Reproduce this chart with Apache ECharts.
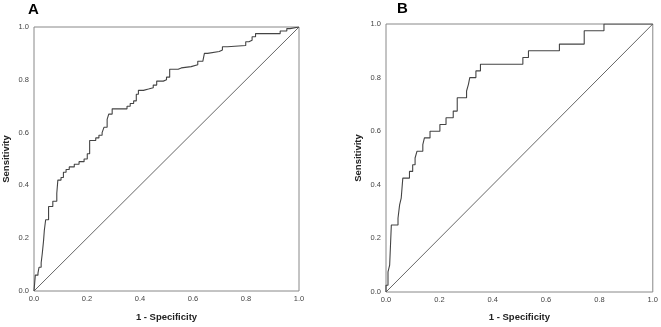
<!DOCTYPE html>
<html>
<head>
<meta charset="utf-8">
<script src="https://cdn.jsdelivr.net/npm/echarts@6/dist/echarts.min.js"></script>
<style>
  html, body { margin: 0; padding: 0; background: #fff; }
  #chart { width: 661px; height: 327px; }
</style>
</head>
<body>
<div id="chart"></div>
<script>
// ROC curve A: x = 1 - specificity where sensitivity steps up, y = new sensitivity
const rocAX = [0, 0.0025, 0.005, 0.015, 0.019, 0.027, 0.031, 0.036, 0.039, 0.044, 0.055, 0.071, 0.086, 0.09,
  0.102, 0.111, 0.121, 0.133, 0.152, 0.17, 0.189, 0.201, 0.21, 0.233, 0.245, 0.257, 0.264, 0.276, 0.282,
  0.295, 0.351, 0.363, 0.376, 0.386, 0.394, 0.413, 0.432, 0.45, 0.463, 0.488, 0.5, 0.512, 0.544, 0.556,
  0.593, 0.618, 0.637, 0.643, 0.655, 0.699, 0.711, 0.73, 0.799, 0.811, 0.823, 0.836, 0.929, 0.954, 0.966, 1.0];
const rocAY = [0, 0.03, 0.06, 0.068, 0.09, 0.107, 0.14, 0.19, 0.23, 0.27, 0.32, 0.34, 0.37, 0.42,
  0.43, 0.45, 0.46, 0.47, 0.48, 0.49, 0.50, 0.52, 0.57, 0.58, 0.59, 0.60, 0.62, 0.65, 0.67,
  0.69, 0.70, 0.71, 0.72, 0.745, 0.76, 0.765, 0.77, 0.78, 0.795, 0.80, 0.81, 0.84, 0.845, 0.85,
  0.857, 0.87, 0.876, 0.90, 0.907, 0.913, 0.925, 0.93, 0.944, 0.95, 0.963, 0.975, 0.985, 0.994, 1.0, 1.0];

// ROC curve B
const rocBX = [0, 0, 0.0075, 0.0137, 0.02, 0.045, 0.051, 0.057, 0.063, 0.088, 0.1, 0.109, 0.116, 0.138,
  0.144, 0.165, 0.202, 0.225, 0.252, 0.267, 0.302, 0.309, 0.314, 0.337, 0.354, 0.513, 0.534, 0.65,
  0.743, 0.817, 1.0];
const rocBY = [0, 0.025, 0.075, 0.1, 0.25, 0.275, 0.325, 0.35, 0.425, 0.45, 0.475, 0.5, 0.525, 0.55,
  0.575, 0.6, 0.625, 0.65, 0.675, 0.725, 0.75, 0.775, 0.8, 0.825, 0.85, 0.875, 0.9, 0.925,
  0.975, 1.0, 1.0];

const diagonal = [[0, 0], [1, 1]];

const pairs = (xs, ys) => xs.map((x, i) => [x, ys[i]]);

const tickLabel = { fontSize: 7.5, color: "#444", fontFamily: "Liberation Sans", formatter: (v) => v.toFixed(1) };
const nameStyle = { fontSize: 9.5, fontWeight: "bold", color: "#222", fontFamily: "Liberation Sans" };

function xAxis(idx, gap) {
  return {
    type: "value", gridIndex: idx, min: 0, max: 1, interval: 0.2,
    name: "1 - Specificity", nameLocation: "middle", nameGap: gap, nameTextStyle: nameStyle,
    axisLine: { show: false }, axisTick: { show: false }, splitLine: { show: false },
    axisLabel: Object.assign({ margin: 4 }, tickLabel),
  };
}
function yAxis(idx) {
  return {
    type: "value", gridIndex: idx, min: 0, max: 1, interval: 0.2,
    name: "Sensitivity", nameLocation: "middle", nameGap: 23, nameTextStyle: nameStyle,
    axisLine: { show: false }, axisTick: { show: false }, splitLine: { show: false },
    axisLabel: Object.assign({ margin: 5 }, tickLabel),
  };
}

const chart = echarts.init(document.getElementById("chart"));
chart.setOption({
  animation: false,
  title: [
    { text: "A", left: 23, top: -3, textStyle: { fontSize: 15, fontWeight: "bold", color: "#000", fontFamily: "Liberation Sans" } },
    { text: "B", left: 392, top: -4, textStyle: { fontSize: 15, fontWeight: "bold", color: "#000", fontFamily: "Liberation Sans" } },
  ],
  grid: [
    { left: 31, top: 27, width: 268, height: 268, show: true, borderColor: "#888", borderWidth: 1 },
    { left: 386, top: 24, width: 269, height: 270, show: true, borderColor: "#888", borderWidth: 1 },
  ],
  xAxis: [xAxis(0, 21), xAxis(1, 20)],
  yAxis: [yAxis(0), yAxis(1)],
  series: [
    { type: "line", xAxisIndex: 0, yAxisIndex: 0, data: diagonal, symbol: "none", lineStyle: { color: "#666", width: 1 } },
    { type: "line", xAxisIndex: 0, yAxisIndex: 0, data: pairs(rocAX, rocAY), step: "end", symbol: "none", lineStyle: { color: "#444", width: 1.1 } },
    { type: "line", xAxisIndex: 1, yAxisIndex: 1, data: diagonal, symbol: "none", lineStyle: { color: "#666", width: 1 } },
    { type: "line", xAxisIndex: 1, yAxisIndex: 1, data: pairs(rocBX, rocBY), step: "end", symbol: "none", lineStyle: { color: "#444", width: 1.1 } },
  ],
});
</script>
</body>
</html>
